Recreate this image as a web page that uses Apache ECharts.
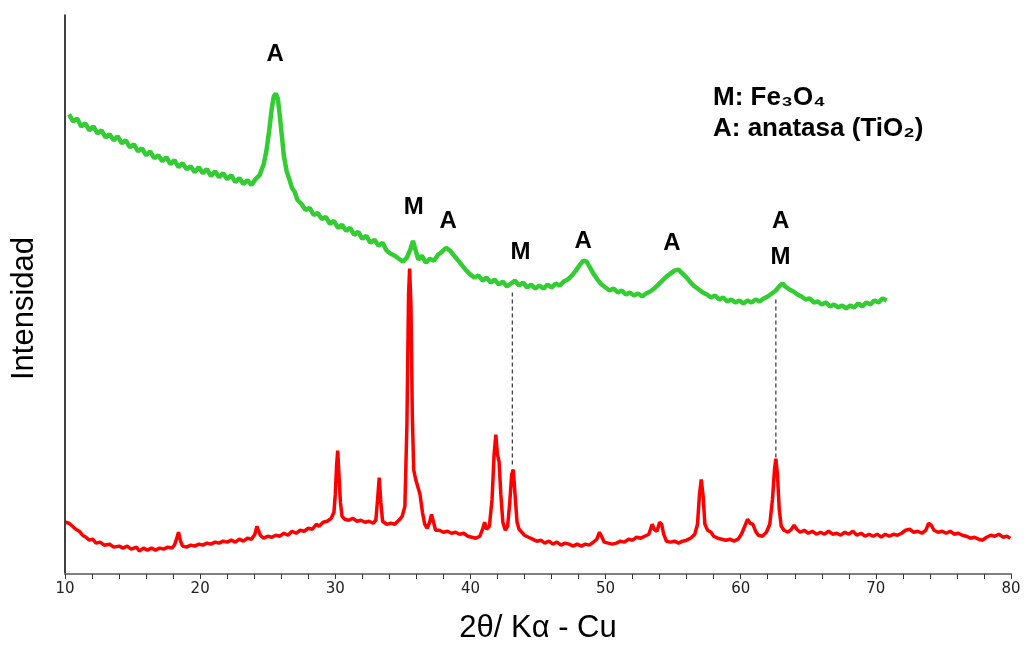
<!DOCTYPE html>
<html>
<head>
<meta charset="utf-8">
<script src="https://cdn.jsdelivr.net/npm/echarts@6/dist/echarts.min.js"></script>
<style>
  html, body { margin: 0; padding: 0; background: #fff; }
  #main { width: 1024px; height: 649px; }
</style>
</head>
<body>
<div id="main"></div>
<script>
// 2theta values on the axis
var xTicks = [10, 20, 30, 40, 50, 60, 70, 80];

// TiO2/Fe3O4 sample (green, drawn with offset)
var greenPoints = [
  [10.3,462],[10.6,455],[10.9,458],[11.2,450],[11.5,453],[11.8,446],[12.1,450],[12.4,443],[12.7,446],[13.0,439],
  [13.3,442],[13.6,436],[13.9,440],[14.2,433],[14.5,436],[14.8,429],[15.1,432],[15.4,425],[15.7,428],[16.0,421],
  [16.3,425],[16.6,418],[16.9,421],[17.2,415],[17.5,419],[17.8,412],[18.1,416],[18.4,409],[18.7,413],[19.0,407],
  [19.3,410],[19.6,404],[19.9,409],[20.2,403],[20.5,407],[20.8,400],[21.1,405],[21.4,399],[21.7,403],[22.0,397],
  [22.3,401],[22.6,394],[22.9,398],[23.2,392],[23.5,396],[23.8,391],[24.1,397],[24.4,401],[24.7,412],[24.9,425],
  [25.1,445],[25.3,468],[25.45,480],[25.6,483],[25.75,478],[25.9,460],[26.05,440],[26.2,420],[26.4,405],[26.6,397],
  [26.8,388],[27.0,384],[27.2,376],[27.5,372],[27.8,366],[28.1,368],[28.4,361],[28.7,363],[29.0,357],[29.3,359],
  [29.6,352],[29.9,355],[30.2,348],[30.5,351],[30.8,345],[31.1,348],[31.4,341],[31.7,344],[32.0,337],[32.3,340],
  [32.6,333],[32.9,336],[33.2,330],[33.5,333],[33.8,325],[34.1,322],[34.4,320],[34.7,317],[35.0,314],[35.3,318],
  [35.55,326],[35.75,335],[35.95,325],[36.15,316],[36.4,320],[36.7,313],[37.0,317],[37.3,315],[37.6,321],[37.9,324],
  [38.2,328],[38.5,325],[38.8,320],[39.1,315],[39.4,310],[39.7,305],[40.0,301],[40.3,298],[40.6,300],[40.9,295],
  [41.2,298],[41.5,293],[41.8,296],[42.1,291],[42.4,294],[42.7,289],[43.0,292],[43.3,295],[43.6,290],[43.9,293],
  [44.2,288],[44.5,291],[44.8,287],[45.1,290],[45.4,287],[45.7,291],[46.0,288],[46.3,292],[46.6,290],[46.9,294],
  [47.2,296],[47.5,300],[47.8,305],[48.1,311],[48.35,315],[48.6,314],[48.85,308],[49.1,302],[49.4,296],[49.7,291],
  [50.0,288],[50.3,285],[50.6,287],[50.9,283],[51.2,285],[51.5,281],[51.8,283],[52.1,280],[52.4,282],[52.7,279],
  [53.0,282],[53.3,284],[53.6,287],[53.9,291],[54.2,295],[54.5,299],[54.8,302],[55.1,305],[55.4,306],[55.7,302],
  [56.0,298],[56.3,293],[56.6,289],[56.9,286],[57.2,283],[57.5,281],[57.8,278],[58.1,280],[58.4,276],[58.7,278],
  [59.0,274],[59.3,276],[59.6,273],[59.9,275],[60.2,272],[60.5,275],[60.8,273],[61.1,276],[61.4,274],[61.7,277],
  [62.0,279],[62.3,282],[62.6,285],[62.9,290],[63.1,292],[63.3,289],[63.6,286],[63.9,284],[64.2,281],[64.5,279],
  [64.8,276],[65.1,277],[65.4,273],[65.7,274],[66.0,271],[66.3,273],[66.6,269],[66.9,271],[67.2,268],[67.5,270],
  [67.8,267],[68.1,270],[68.4,268],[68.7,272],[69.0,269],[69.3,273],[69.6,271],[69.9,275],[70.2,273],[70.5,277],
  [70.8,275]
];

// Fe3O4 reference (red)
var redPoints = [
  [10.05,52],[10.3,51],[10.55,48],[10.8,45],[11.05,43],[11.3,39],[11.55,37],[11.8,34],[12.05,35],[12.3,31],
  [12.6,32],[12.9,29],[13.3,30],[13.6,27],[14.0,28],[14.3,26],[14.6,28],[14.9,25],[15.3,27],[15.5,23],
  [15.8,26],[16.1,24],[16.4,26],[16.7,24],[17.0,26],[17.3,25],[17.6,27],[17.9,26],[18.1,29],[18.25,35],
  [18.4,42],[18.55,33],[18.7,28],[19.0,27],[19.3,29],[19.6,28],[19.9,30],[20.2,29],[20.5,31],[20.8,30],
  [21.1,32],[21.4,31],[21.7,33],[22.0,32],[22.3,34],[22.6,32],[22.9,35],[23.2,33],[23.5,36],[23.8,35],
  [24.05,40],[24.2,48],[24.3,47],[24.45,39],[24.7,36],[25.0,38],[25.3,37],[25.6,39],[25.9,38],[26.2,41],
  [26.5,39],[26.8,43],[27.1,41],[27.4,44],[27.7,43],[28.0,46],[28.3,45],[28.6,50],[28.8,48],[29.1,52],
  [29.4,53],[29.7,56],[29.9,62],[30.0,80],[30.1,110],[30.18,124],[30.27,100],[30.38,72],[30.5,58],[30.7,55],
  [31.0,54],[31.3,56],[31.6,53],[31.9,54],[32.2,52],[32.5,53],[32.8,51],[33.0,54],[33.13,75],[33.25,97],
  [33.37,72],[33.5,53],[33.8,50],[34.1,51],[34.4,50],[34.7,54],[34.95,58],[35.15,68],[35.3,150],[35.42,280],
  [35.5,307],[35.6,270],[35.7,160],[35.8,105],[35.95,95],[36.1,88],[36.27,80],[36.45,62],[36.62,50],[36.8,46],
  [36.98,52],[37.12,60],[37.27,52],[37.42,44],[37.7,44],[38.0,42],[38.3,43],[38.6,41],[38.9,42],[39.2,40],
  [39.5,41],[39.8,38],[40.1,37],[40.4,36],[40.7,38],[40.9,45],[41.05,52],[41.2,45],[41.4,48],[41.6,75],
  [41.75,120],[41.88,140],[42.0,120],[42.12,113],[42.25,80],[42.4,52],[42.58,44],[42.75,48],[42.9,70],[43.05,100],
  [43.17,105],[43.3,80],[43.45,52],[43.6,45],[43.8,42],[44.0,39],[44.3,37],[44.6,35],[44.9,33],[45.2,34],
  [45.5,31],[45.8,33],[46.1,30],[46.4,32],[46.7,29],[47.0,31],[47.3,30],[47.6,28],[47.9,30],[48.2,28],
  [48.5,30],[48.8,29],[49.1,32],[49.35,35],[49.55,42],[49.7,38],[49.9,32],[50.2,31],[50.5,30],[50.8,31],
  [51.1,33],[51.4,32],[51.7,35],[52.0,34],[52.3,37],[52.6,36],[52.9,38],[53.2,40],[53.45,50],[53.6,45],
  [53.8,43],[54.0,52],[54.15,50],[54.3,40],[54.5,33],[54.8,32],[55.1,33],[55.4,31],[55.7,33],[56.0,34],
  [56.3,36],[56.6,40],[56.8,50],[56.95,80],[57.08,95],[57.22,78],[57.35,50],[57.55,44],[57.8,42],[58.0,38],
  [58.3,36],[58.6,35],[58.9,34],[59.2,35],[59.5,33],[59.8,35],[60.05,40],[60.3,48],[60.5,55],[60.7,51],
  [60.9,50],[61.1,43],[61.3,39],[61.6,38],[61.9,42],[62.15,50],[62.35,75],[62.5,105],[62.6,116],[62.72,100],
  [62.85,65],[63.0,48],[63.2,44],[63.5,42],[63.75,45],[63.95,49],[64.15,45],[64.4,42],[64.7,44],[65.0,41],
  [65.3,43],[65.6,40],[65.9,42],[66.2,40],[66.5,43],[66.8,40],[67.1,41],[67.4,39],[67.7,42],[68.0,40],
  [68.3,43],[68.6,39],[68.9,41],[69.2,38],[69.5,40],[69.8,38],[70.1,40],[70.4,37],[70.7,40],[71.0,38],
  [71.3,40],[71.6,39],[71.9,41],[72.2,44],[72.5,45],[72.8,42],[73.1,43],[73.4,41],[73.7,44],[73.9,51],
  [74.1,49],[74.3,44],[74.6,42],[74.9,43],[75.2,41],[75.5,43],[75.8,40],[76.1,41],[76.4,39],[76.7,38],
  [77.0,36],[77.3,37],[77.6,35],[77.9,34],[78.2,37],[78.5,39],[78.8,38],[79.1,40],[79.4,37],[79.7,38],
  [79.95,36]
];

// peak letters
var peakNames = ['A', 'M', 'A', 'M', 'A', 'A', 'A', 'M'];
var peakTheta = [25.55, 35.8, 38.35, 43.7, 48.35, 54.9, 62.95, 62.95];
var peakY     = [522, 369, 355, 323, 334, 332, 355, 318];

// dashed guide lines (Fe3O4 positions)
var dashTheta = [43.1, 62.6];
var dashLow   = [110, 117];
var dashHigh  = [284, 277];

var chart = echarts.init(document.getElementById('main'));

var peakData = peakNames.map(function (n, i) {
  return { name: n, value: [peakTheta[i], peakY[i]] };
});

var dashSeries = dashTheta.map(function (t, i) {
  return {
    type: 'line',
    data: [[t, dashLow[i]], [t, dashHigh[i]]],
    symbol: 'none',
    silent: true,
    lineStyle: { color: '#333', width: 1.2, type: [4, 3] },
    z: 1
  };
});

var option = {
  animation: false,
  grid: { left: 65, right: 13, top: 15, bottom: 72 },
  xAxis: {
    type: 'value',
    min: 10,
    max: 80,
    interval: 10,
    name: '2θ/ Kα - Cu',
    nameLocation: 'middle',
    nameGap: 39,
    nameTextStyle: { fontSize: 31, color: '#000', fontFamily: 'Liberation Sans' },
    axisLine: { lineStyle: { color: '#808080', width: 2 } },
    axisTick: { length: 5, lineStyle: { color: '#333' } },
    minorTick: { show: true, splitNumber: 5, length: 5, lineStyle: { color: '#333' } },
    splitLine: { show: false },
    axisLabel: {
      margin: 8,
      fontSize: 15,
      color: '#222',
      fontFamily: 'DejaVu Sans',
      formatter: function (v) { return xTicks.indexOf(v) >= 0 ? String(v) : ''; }
    }
  },
  yAxis: {
    type: 'value',
    min: 0,
    max: 562,
    axisLine: { show: true, lineStyle: { color: '#000', width: 1.5 } },
    axisTick: { show: false },
    axisLabel: { show: false },
    splitLine: { show: false }
  },
  graphic: [
    {
      type: 'text',
      left: 9,
      top: 237,
      style: { text: 'Intensidad', font: '31px "Liberation Sans"', fill: '#000' },
      rotation: Math.PI / 2
    },
    {
      type: 'text',
      left: 713,
      top: 82,
      style: {
        text: 'M: Fe₃O₄\nA: anatasa (TiO₂)',
        font: 'bold 26px "Liberation Sans"',
        lineHeight: 31,
        fill: '#000'
      }
    }
  ],
  series: [
    {
      type: 'line',
      data: greenPoints,
      symbol: 'none',
      lineStyle: { color: '#33cc33', width: 4.5 },
      z: 3
    },
    {
      type: 'line',
      data: redPoints,
      symbol: 'none',
      lineStyle: { color: '#ff0000', width: 3.5 },
      z: 3
    },
    {
      type: 'scatter',
      data: peakData,
      symbolSize: 0,
      silent: true,
      itemStyle: { opacity: 1 },
      label: {
        show: true,
        position: 'inside',
        formatter: '{b}',
        fontSize: 24,
        fontWeight: 'bold',
        fontFamily: 'Liberation Sans',
        color: '#000',
        opacity: 1
      },
      z: 4
    }
  ].concat(dashSeries)
};

chart.setOption(option);
</script>
</body>
</html>
